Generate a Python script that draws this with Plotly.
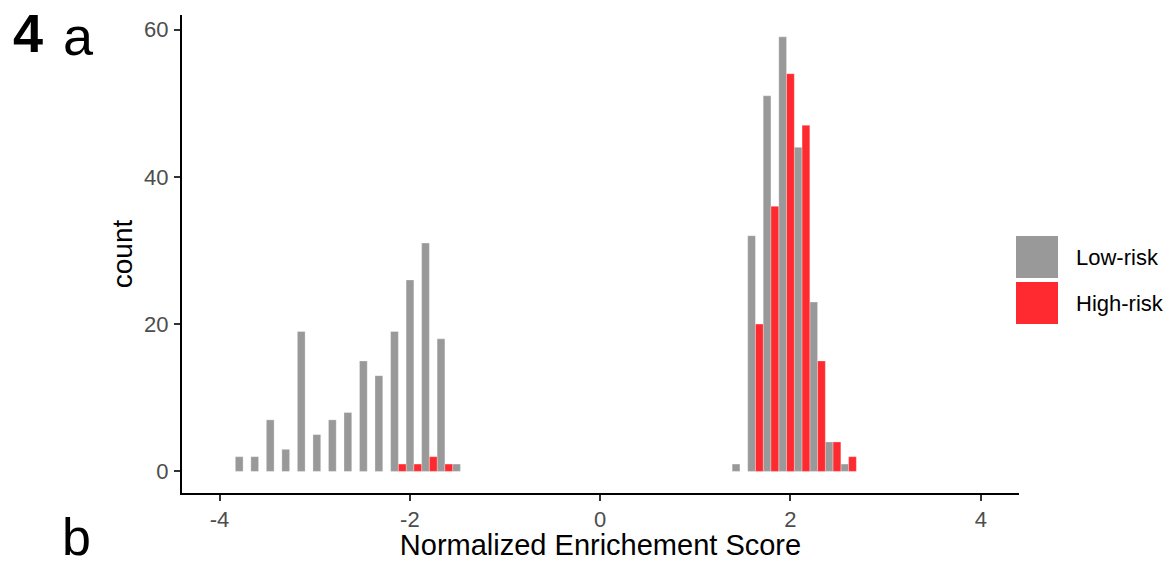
import plotly.graph_objects as go

# ---- data ----
bin_centers = [-3.753, -3.590, -3.427, -3.264, -3.101, -2.937, -2.774, -2.611,
               -2.448, -2.285, -2.121, -1.958, -1.795, -1.632, -1.469,
               1.469, 1.632, 1.795, 1.959, 2.122, 2.285, 2.448, 2.611]
low_risk = [2, 2, 7, 3, 19, 5, 7, 8, 15, 13, 19, 26, 31, 18, 1,
            1, 32, 51, 59, 44, 23, 4, 1]
high_risk = [0, 0, 0, 0, 0, 0, 0, 0, 0, 0, 1, 1, 2, 1, 0,
             0, 20, 36, 54, 47, 15, 4, 2]
series_names = ["Low-risk", "High-risk"]
x_tickvals = [-4, -2, 0, 2, 4]
x_ticktext = ["-4", "-2", "0", "2", "4"]
y_tickvals = [0, 20, 40, 60]
y_ticktext = ["0", "20", "40", "60"]

# ---- style ----
BIN_W = 0.1632
HALF = BIN_W / 2
GREY = "#999999"
RED = "#FF2A30"
FONT = "Liberation Sans, Arial, sans-serif"

fig = go.Figure()
fig.add_trace(go.Bar(x=bin_centers, y=low_risk, name=series_names[0],
                     width=HALF, offset=-HALF, marker_color=GREY,
                     marker_line_width=0.5, marker_line_color="rgba(255,255,255,0.6)",
                     showlegend=False))
fig.add_trace(go.Bar(x=bin_centers, y=high_risk, name=series_names[1],
                     width=HALF, offset=0, marker_color=RED,
                     marker_line_width=0.5, marker_line_color="rgba(255,255,255,0.6)",
                     showlegend=False))

W, H = 1169, 561
L, R, T, B = 182, 1019, 15, 493


def px_x(px):
    return (px - L) / (R - L)


def px_y(py):
    return (B - py) / (B - T)


fig.update_layout(
    width=W, height=H,
    barmode="overlay",
    plot_bgcolor="white", paper_bgcolor="white",
    margin=dict(l=L, r=W - R, t=T, b=H - B, autoexpand=False),
    font=dict(family=FONT, color="black"),
    xaxis=dict(range=[-4.395, 4.402], tickvals=x_tickvals, ticktext=x_ticktext,
               automargin=False,
               showgrid=False, zeroline=False, showline=True, linecolor="black",
               linewidth=2, ticks="outside", ticklen=6, tickwidth=2, tickcolor="#333333",
               tickfont=dict(size=22, color="#4D4D4D", family=FONT),
               title=dict(text="Normalized Enrichement Score",
                          font=dict(size=29, color="black", family=FONT), standoff=10)),
    yaxis=dict(range=[-2.93, 61.97], tickvals=y_tickvals, ticktext=y_ticktext,
               automargin=False,
               showgrid=False, zeroline=False, showline=True, linecolor="black",
               linewidth=2, ticks="outside", ticklen=6, tickwidth=2, tickcolor="#333333",
               ticklabelstandoff=1,
               tickfont=dict(size=22, color="#4D4D4D", family=FONT),
               title=dict(text="count", font=dict(size=28, color="black", family=FONT),
                          standoff=3)),
)

# legend drawn as large ggplot-style keys
keys = [(series_names[0], GREY, 236, 278), (series_names[1], RED, 282, 324)]
for name, col, y_top, y_bot in keys:
    fig.add_shape(type="rect", xref="paper", yref="paper",
                  x0=px_x(1016), x1=px_x(1058), y0=px_y(y_bot), y1=px_y(y_top),
                  fillcolor=col, line=dict(width=0), layer="above")
    fig.add_annotation(xref="paper", yref="paper", x=px_x(1074), y=px_y((y_top + y_bot) / 2),
                       text=name, showarrow=False, xanchor="left", yanchor="middle",
                       font=dict(size=22, color="black", family=FONT))

# panel labels
fig.add_annotation(xref="paper", yref="paper", x=px_x(11), y=px_y(33), text="<b>4</b>",
                   showarrow=False, xanchor="left", yanchor="middle",
                   font=dict(size=54, color="black", family=FONT))
fig.add_annotation(xref="paper", yref="paper", x=px_x(61), y=px_y(36), text="a",
                   showarrow=False, xanchor="left", yanchor="middle",
                   font=dict(size=54, color="black", family=FONT))
fig.add_annotation(xref="paper", yref="paper", x=px_x(60), y=px_y(537), text="b",
                   showarrow=False, xanchor="left", yanchor="middle",
                   font=dict(size=52, color="black", family=FONT))

fig.write_html(
    "out.html",
    config={"displayModeBar": False},
    post_script="document.body.style.margin='0';document.body.style.overflow='hidden';",
)
